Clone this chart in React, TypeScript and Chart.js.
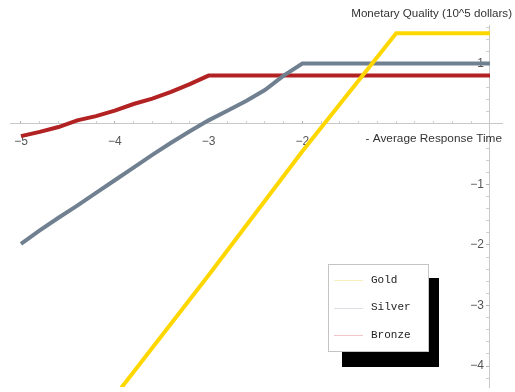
import React, { useEffect, useRef } from "react";
import { Chart, registerables } from "chart.js";

Chart.register(...registerables);

const seriesNames = ["Gold", "Silver", "Bronze"];
const seriesColors = ["#FFD700", "#708090", "#B22222"];
const legendLineColors = ["#F8EFC0", "#DDE0E4", "#F2C6C6"];

const goldX = [-4.2, -3, -2, -1, 0];
const goldY = [-4.9, -2.5, -0.45, 1.5, 1.5];

const silverX = [-5, -4.8, -4.6, -4.4, -4.2, -4, -3.8, -3.6, -3.4, -3.2, -3, -2.8, -2.6, -2.4, -2.2, -2, 0];
const silverY = [-1.98, -1.76, -1.55, -1.35, -1.14, -0.93, -0.72, -0.51, -0.31, -0.12, 0.06, 0.22, 0.38, 0.56, 0.8, 1.0, 1.0];

const bronzeX = [-5, -4.8, -4.6, -4.4, -4.2, -4, -3.8, -3.6, -3.4, -3.2, -3, 0];
const bronzeY = [-0.2, -0.13, -0.05, 0.06, 0.13, 0.22, 0.33, 0.42, 0.53, 0.66, 0.8, 0.8];

const xTickLabels = [-5, -4, -3, -2];
const yTickLabels = [1, -1, -2, -3, -4];

const xMin = -5.117;
const xMax = 0.128;
const yMin = -4.347;
const yMax = 1.636;

const axisTitleY = "Monetary Quality (10^5 dollars)";
const axisTitleX = "- Average Response Time";

const xMinorTicks: number[] = [];
for (let i = -25; i <= 0; i++) xMinorTicks.push(Math.round(i * 2) / 10);
const yMinorTicks: number[] = [];
for (let i = -21; i <= 8; i++) yMinorTicks.push(Math.round(i * 2) / 10);

const fmt = (v: number) => (v < 0 ? "\u2212" + Math.abs(v) : String(v));
const isLabel = (arr: number[], v: number) => arr.some((a) => Math.abs(a - v) < 1e-6);

const toPts = (xs: number[], ys: number[]) => xs.map((x, i) => ({ x, y: ys[i] }));

const overlayPlugin = {
  id: "overlay",
  afterDraw(chart: any) {
    const ctx = chart.ctx;
    const xs = chart.scales.x;
    const ys = chart.scales.y;
    const x0 = xs.getPixelForValue(0);
    const y0 = ys.getPixelForValue(0);
    ctx.save();
    // axis titles
    ctx.fillStyle = "#333";
    ctx.textAlign = "right";
    ctx.textBaseline = "middle";
    ctx.font = '11.6px "Liberation Sans", Arial, sans-serif';
    ctx.fillText(axisTitleY, x0 + 22, chart.chartArea.top - 11);
    ctx.font = '11.8px "Liberation Sans", Arial, sans-serif';
    ctx.fillText(axisTitleX, x0 + 12, y0 + 15);

    // legend
    const bx = 328, by = 264, bw = 100, bh = 87;
    ctx.fillStyle = "#000";
    ctx.fillRect(bx + 14, by + 14, bw - 3, bh + 2);
    ctx.fillStyle = "#fff";
    ctx.fillRect(bx, by, bw, bh);
    ctx.strokeStyle = "#c4c4c4";
    ctx.lineWidth = 1;
    ctx.strokeRect(bx + 0.5, by + 0.5, bw, bh);
    ctx.font = '11px "Liberation Mono", monospace';
    ctx.textAlign = "left";
    ctx.textBaseline = "middle";
    seriesNames.forEach((name, i) => {
      const yy = by + 16 + i * 27.5;
      ctx.strokeStyle = legendLineColors[i];
      ctx.beginPath();
      ctx.moveTo(bx + 6, Math.round(yy) + 0.5);
      ctx.lineTo(bx + 35, Math.round(yy) + 0.5);
      ctx.stroke();
      ctx.fillStyle = "#222";
      ctx.fillText(name, bx + 43, yy);
    });
    ctx.restore();
  },
};

export default function App() {
  const ref = useRef<HTMLCanvasElement | null>(null);
  useEffect(() => {
    if (!ref.current) return;
    const seriesData = [toPts(goldX, goldY), toPts(silverX, silverY), toPts(bronzeX, bronzeY)];
    const chart = new Chart(ref.current, {
      type: "line",
      data: {
        datasets: seriesNames.map((name, i) => ({
          label: name,
          data: seriesData[i],
          borderColor: seriesColors[i],
          backgroundColor: seriesColors[i],
          borderWidth: 4,
          pointRadius: 0,
          tension: 0,
          fill: false,
        })),
      },
      options: {
        animation: false,
        responsive: false,
        devicePixelRatio: 1,
        layout: { padding: { left: 10, right: 13, top: 25, bottom: 5 } },
        plugins: { legend: { display: false }, tooltip: { enabled: false } },
        scales: {
          x: {
            type: "linear",
            min: xMin,
            max: xMax,
            position: { y: 0 } as any,
            border: { color: "#c8c8c8", width: 1 },
            grid: {
              drawOnChartArea: false,
              drawTicks: true,
              tickLength: -3,
              tickColor: (c: any) => (isLabel(xTickLabels, c.tick?.value) ? "#b0b0b0" : "#d0d0d0"),
            },
            afterBuildTicks: (s: any) => {
              s.ticks = xMinorTicks.map((v) => ({ value: v }));
            },
            afterFit: (s: any) => {
              s.paddingLeft = 0;
              s.paddingRight = 0;
              s.paddingTop = 0;
              s.paddingBottom = 0;
            },
            ticks: {
              autoSkip: false,
              maxRotation: 0,
              padding: 14,
              color: "#555",
              font: { family: '"Liberation Sans", Arial, sans-serif', size: 12 },
              callback: (v: any) => (isLabel(xTickLabels, Number(v)) ? fmt(Math.round(Number(v))) : ""),
            },
          },
          y: {
            type: "linear",
            min: yMin,
            max: yMax,
            position: { x: 0 } as any,
            border: { color: "#c8c8c8", width: 1 },
            grid: {
              drawOnChartArea: false,
              drawTicks: true,
              tickLength: 3,
              tickColor: (c: any) => (isLabel(yTickLabels, c.tick?.value) ? "#b0b0b0" : "#d0d0d0"),
            },
            afterBuildTicks: (s: any) => {
              s.ticks = yMinorTicks.map((v) => ({ value: v }));
            },
            afterFit: (s: any) => {
              s.paddingLeft = 0;
              s.paddingRight = 0;
              s.paddingTop = 0;
              s.paddingBottom = 0;
            },
            ticks: {
              autoSkip: false,
              padding: 3,
              color: "#555",
              font: { family: '"Liberation Sans", Arial, sans-serif', size: 12 },
              callback: (v: any) => (isLabel(yTickLabels, Number(v)) ? fmt(Math.round(Number(v))) + "\u2002" : ""),
            },
          },
        },
      },
      plugins: [overlayPlugin],
    });
    return () => chart.destroy();
  }, []);
  return (
    <div style={{ position: "fixed", left: 0, top: 0, width: 515, height: 392, background: "#fff" }}>
      <canvas ref={ref} width={515} height={392} style={{ display: "block" }} />
    </div>
  );
}
